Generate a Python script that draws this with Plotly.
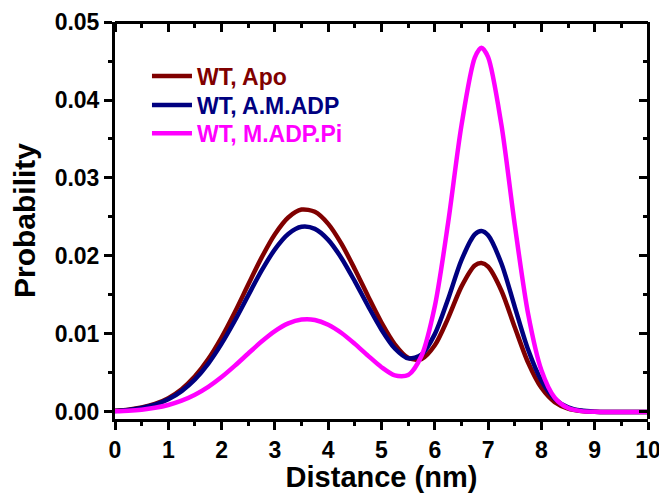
import plotly.graph_objects as go

# Distance (nm)
distance = [0, 0.25, 0.5, 0.75, 1.0, 1.25, 1.5, 1.75, 2.0, 2.25, 2.5, 2.75, 3.0, 3.25, 3.5, 3.75,
            4.0, 4.25, 4.5, 4.75, 5.0, 5.25, 5.5, 5.75, 6.0, 6.25, 6.5, 6.75, 6.875, 7.0, 7.25,
            7.5, 7.75, 8.0, 8.25, 8.5, 8.75, 9.0, 9.25, 9.5, 9.75, 10.0]

wt_apo = [0.00015, 0.0003, 0.00057, 0.00103, 0.00178, 0.00293, 0.00457, 0.00678, 0.00957, 0.01282,
          0.01634, 0.01979, 0.02279, 0.02494, 0.02595, 0.02566, 0.02412, 0.02155, 0.0183, 0.01481,
          0.01146, 0.00868, 0.00695, 0.00678, 0.00855, 0.01204, 0.01607, 0.01878, 0.0191, 0.01863,
          0.01555, 0.01087, 0.00634, 0.0031, 0.00127, 0.00044, 0.00013, 0.00003, 0.0, 0.0, 0.0, 0.0]

wt_am_adp = [0.00014, 0.00027, 0.00052, 0.00094, 0.00163, 0.00268, 0.00418, 0.0062, 0.00876, 0.01173,
             0.01495, 0.01811, 0.02085, 0.02282, 0.02374, 0.02348, 0.02207, 0.01972, 0.01674, 0.01356,
             0.01055, 0.00814, 0.00687, 0.00735, 0.00998, 0.01449, 0.01947, 0.02276, 0.0232, 0.02265,
             0.01904, 0.01348, 0.008, 0.00401, 0.00169, 0.0006, 0.00018, 0.00004, 0.0, 0.0, 0.0, 0.0]

wt_madp_pi = [0.00009, 0.00016, 0.0003, 0.00054, 0.0009, 0.00145, 0.00221, 0.00322, 0.00448, 0.00594,
              0.0075, 0.00903, 0.01037, 0.01136, 0.01185, 0.0118, 0.01119, 0.01013, 0.00873, 0.0072,
              0.00574, 0.00469, 0.00474, 0.00718, 0.01355, 0.02427, 0.03673, 0.04544, 0.0467, 0.0455,
              0.0368, 0.02401, 0.01261, 0.00535, 0.00183, 0.0005, 0.00011, 0.00002, 0.0, 0.0, 0.0, 0.0]

series = [
    ("WT, Apo", wt_apo, "#800000"),
    ("WT, A.M.ADP", wt_am_adp, "#000080"),
    ("WT, M.ADP.Pi", wt_madp_pi, "#FF00FF"),
]

x_ticks = [0, 1, 2, 3, 4, 5, 6, 7, 8, 9, 10]
y_ticks = [0.00, 0.01, 0.02, 0.03, 0.04, 0.05]
y_tick_text = ["0.00", "0.01", "0.02", "0.03", "0.04", "0.05"]

FONT = "Liberation Sans, Arial, sans-serif"
legend_ids = ["legend", "legend2", "legend3"]
legend_tops = [0.918, 0.845, 0.774]

fig = go.Figure()
for (name, vals, color), lid in zip(series, legend_ids):
    fig.add_trace(go.Scatter(
        x=distance, y=vals, mode="lines",
        line=dict(color=color, width=4.5, shape="spline", smoothing=0.8),
        name=f'<span style="color:{color}">{name}</span>',
        legend=lid, showlegend=True,
    ))

# invisible trace so the mirrored (top/right) frame axes are drawn
fig.add_trace(go.Scatter(x=[distance[0]], y=[y_ticks[0]], xaxis="x2", yaxis="y2",
                         mode="markers", marker=dict(opacity=0, size=1),
                         showlegend=False, hoverinfo="skip"))

xr = [0, 10]
yr = [-0.0009, 0.05]
axis_common = dict(showline=True, linewidth=3, linecolor="black", showgrid=False,
                   zeroline=False, tickwidth=3, tickcolor="black", automargin=False)

legend_style = dict(x=0.06, xanchor="left", yanchor="top",
                    bgcolor="rgba(0,0,0,0)", borderwidth=0,
                    font=dict(family=FONT, size=23, weight="bold"),
                    itemwidth=40)

fig.update_layout(
    width=659, height=485,
    margin=dict(l=107, r=19, t=14, b=74),
    paper_bgcolor="white", plot_bgcolor="white",
    font=dict(family=FONT, size=23, color="black", weight="bold"),
    showlegend=True,
    legend=dict(y=legend_tops[0], **legend_style),
    legend2=dict(y=legend_tops[1], **legend_style),
    legend3=dict(y=legend_tops[2], **legend_style),
    xaxis=dict(range=xr, tickvals=x_ticks, ticks="outside", ticklen=8,
               minor=dict(ticks="outside", ticklen=4, tickwidth=3, tickcolor="black",
                          dtick=0.5, tick0=0),
               title=dict(text="Distance (nm)", font=dict(family=FONT, size=29, weight="bold"),
                          standoff=13),
               tickfont=dict(family=FONT, size=23, weight="bold"),
               **axis_common),
    yaxis=dict(range=yr, tickvals=y_ticks, ticktext=y_tick_text, ticks="outside", ticklen=8,
               minor=dict(ticks="outside", ticklen=4, tickwidth=3, tickcolor="black",
                          dtick=0.005, tick0=0),
               title=dict(text="Probability", font=dict(family=FONT, size=30, weight="bold"),
                          standoff=12),
               tickfont=dict(family=FONT, size=23, weight="bold"),
               **axis_common),
    # top frame: placed at the top edge but "bottom"-sided so outside ticks point into the plot
    xaxis2=dict(range=xr, overlaying="x", anchor="free", position=1, side="bottom",
                tickvals=x_ticks, ticks="outside", ticklen=8, showticklabels=False,
                minor=dict(ticks="outside", ticklen=4, tickwidth=3, tickcolor="black",
                           dtick=0.5, tick0=0),
                **axis_common),
    # right frame: placed at the right edge but "left"-sided so outside ticks point into the plot
    yaxis2=dict(range=yr, overlaying="y", anchor="free", position=1, side="left",
                tickvals=y_ticks, ticks="outside", ticklen=8, showticklabels=False,
                minor=dict(ticks="outside", ticklen=4, tickwidth=3, tickcolor="black",
                           dtick=0.005, tick0=0),
                **axis_common),
)

fig.write_html("out.html")
